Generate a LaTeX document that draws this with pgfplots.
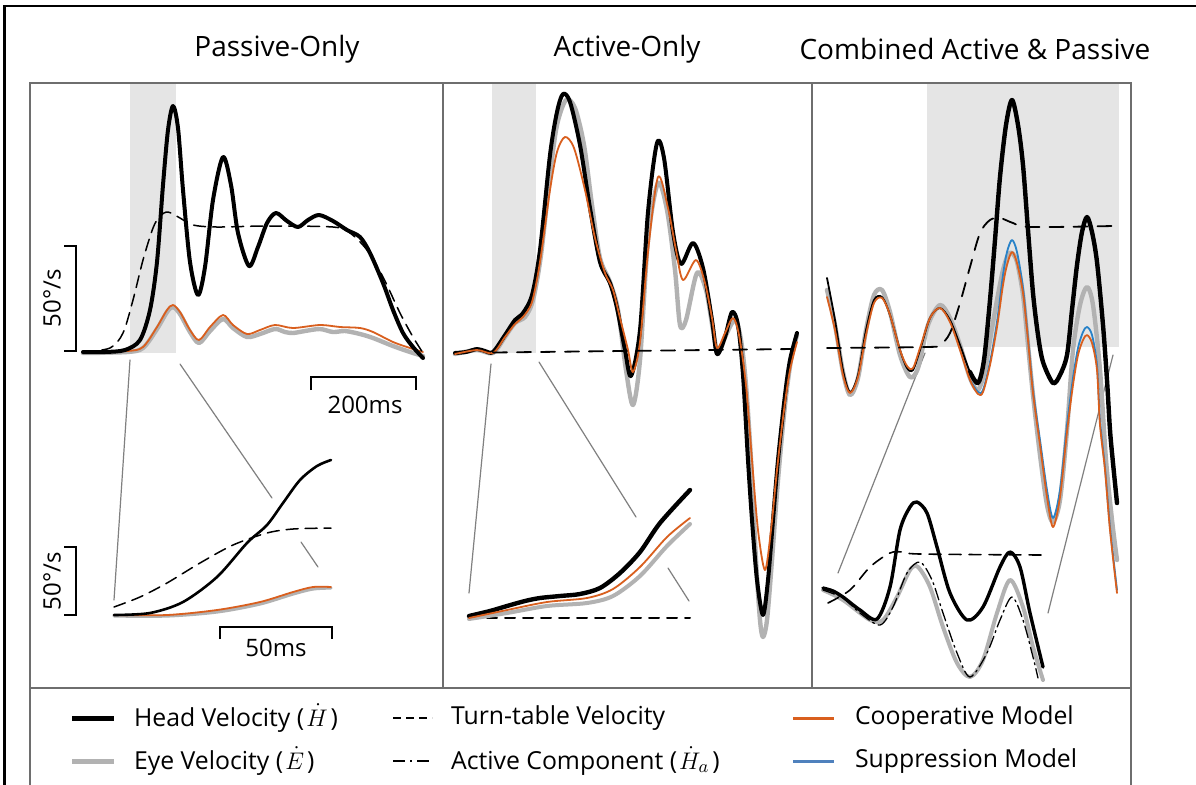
\documentclass[border=0pt]{standalone}
\usepackage{pgfplots}
\pgfplotsset{compat=1.18}
\usepackage{fontspec}
\setmainfont{Open Sans}

\definecolor{orng}{RGB}{217,95,30}
\definecolor{blu}{RGB}{40,130,200}
\definecolor{legblu}{RGB}{79,129,189}
\definecolor{eyeg}{RGB}{178,178,178}
\definecolor{shade}{RGB}{229,229,229}
\definecolor{frameg}{RGB}{110,110,110}
\definecolor{conn}{RGB}{128,128,128}

\tikzset{
  headthick/.style={black, line width=2pt, smooth},
  eyethick/.style={eyeg, line width=2.2pt, smooth},
  coop/.style={orng, line width=0.9pt, smooth},
  supp/.style={blu, line width=0.9pt, smooth},
  table/.style={black, line width=0.75pt, dash pattern=on 6pt off 3.5pt, smooth},
  activec/.style={black, line width=0.65pt, dash pattern=on 6pt off 2pt on 1pt off 2pt, smooth},
  zoomline/.style={conn, line width=0.6pt},
  scalebar/.style={black, line width=0.8pt},
  legtext/.style={anchor=west, font=\fontsize{12.4}{14}\selectfont},
}

\begin{document}
\begin{tikzpicture}
\begin{axis}[
  x=0.5pt, y=0.5pt, y dir=reverse,
  xmin=0, xmax=1196, ymin=0, ymax=784,
  enlargelimits=false, hide axis, clip=true,
  every axis plot/.append style={line join=round, line cap=round},
]
\fill[white] (0,0) rectangle (1196,784);

% ---- shaded windows ----
\addplot[fill=shade, draw=none] coordinates {(130,83) (176,83) (176,353) (130,353)} --cycle;
\addplot[fill=shade, draw=none] coordinates {(492,83) (536,83) (536,353) (492,353)} --cycle;
\addplot[fill=shade, draw=none] coordinates {(927,83) (1119,83) (1119,347) (927,347)} --cycle;

% ---- zoom connectors ----
\addplot[zoomline] coordinates {(130,360) (114,600)};
\addplot[zoomline] coordinates {(180,364) (272,498)};
\addplot[zoomline] coordinates {(301,542) (318,567)};
\addplot[zoomline] coordinates {(491,364) (469,593)};
\addplot[zoomline] coordinates {(539,362) (636,517)};
\addplot[zoomline] coordinates {(668,568) (689,601)};
\addplot[zoomline] coordinates {(838,573) (925,353)};
\addplot[zoomline] coordinates {(1048,613) (1113,355)};

% ================= Passive-Only, full trace =================
\addplot[eyethick] coordinates {(83,353) (127,352) (143,348) (157,329) (167,312) (173,307) (180,314) (190,332) (199,343) (210,331) (223,319) (233,328) (247,337) (260,334) (275,329) (285,332) (293,333) (305,331) (320,329) (333,332) (345,331) (360,334) (373,338) (393,346) (410,352) (423,356)};
\addplot[coop] coordinates {(83,352) (127,351) (143,347) (157,327) (167,310) (173,305) (180,312) (190,330) (199,340) (210,327) (223,315) (233,325) (247,334) (260,330) (275,325) (293,328) (320,325) (340,327) (360,328) (373,332) (393,342) (410,348) (423,352)};
\addplot[table] coordinates {(83,352) (110,348) (123,333) (133,300) (143,260) (153,228) (160,216) (168,212) (180,218) (193,225) (217,227) (267,226) (333,227) (350,233) (367,250) (383,277) (400,313) (413,337) (423,353)};
\addplot[headthick] coordinates {(83,352) (105,352) (125,350) (140,340) (150,310) (157,262) (163,185) (168,130) (173,106) (178,128) (183,190) (190,262) (198,295) (205,267) (213,200) (223,157) (231,185) (238,233) (249,266) (258,247) (267,223) (276,213) (287,221) (298,227) (308,220) (319,215) (333,221) (347,230) (360,237) (370,253) (383,283) (393,310) (403,333) (413,347) (423,358)};

% Passive-Only, zoomed onset
\addplot[eyeg, line width=1.6pt, smooth] coordinates {(114,616) (167,616) (217,612) (260,604) (293,594) (313,589) (331,588)};
\addplot[orng, line width=0.9pt, smooth] coordinates {(114,615) (167,615) (217,610) (260,602) (293,592) (313,587) (331,587)};
\addplot[black, line width=0.75pt, dash pattern=on 6pt off 3.5pt, smooth] coordinates {(114,607) (140,597) (167,583) (200,563) (233,545) (267,533) (293,529) (331,528)};
\addplot[black, line width=1.3pt, smooth] coordinates {(114,615) (150,613) (183,602) (217,577) (247,543) (267,525) (283,503) (300,480) (317,466) (331,460)};

% ================= Active-Only, full trace =================
\addplot[eyethick] coordinates {(455,354) (477,350) (493,353) (505,337) (515,323) (525,317) (533,300) (541,255) (550,175) (557,125) (566,100) (575,108) (584,145) (592,205) (600,258) (610,282) (618,310) (626,370) (633,405) (640,360) (648,240) (658,183) (667,210) (675,270) (680,325) (686,320) (697,273) (706,290) (713,330) (718,353) (726,335) (735,320) (741,340) (746,385) (751,460) (756,560) (760,620) (763,637) (767,620) (772,560) (778,480) (785,405) (791,360) (797,335)};
\addplot[headthick] coordinates {(455,353) (466,352) (477,349) (485,351) (493,352) (505,335) (515,320) (523,313) (532,295) (540,250) (550,155) (557,112) (563,94) (570,102) (580,145) (590,208) (600,262) (610,283) (617,308) (625,350) (631,376) (640,330) (648,212) (657,143) (664,158) (673,232) (681,264) (693,243) (703,268) (712,320) (717,354) (725,337) (732,312) (738,325) (743,375) (748,460) (752,520) (757,580) (763,615) (768,580) (773,520) (778,460) (785,395) (790,360) (797,333)};
\addplot[coop] coordinates {(455,354) (477,350) (493,353) (505,337) (515,324) (523,317) (532,302) (540,262) (550,190) (557,152) (565,137) (574,148) (585,190) (595,238) (605,273) (613,290) (620,318) (628,350) (633,372) (640,342) (648,252) (658,177) (668,208) (676,250) (683,280) (696,260) (705,283) (712,318) (717,348) (725,333) (733,318) (739,335) (746,385) (752,460) (758,530) (765,570) (771,530) (777,470) (784,410) (790,370) (797,342)};
\addplot[black, line width=0.9pt, dash pattern=on 7pt off 5pt] coordinates {(493,352.5) (793,349)};

% Active-Only, zoomed onset
\addplot[black, line width=1pt, dash pattern=on 5pt off 4pt] coordinates {(469,618) (690,618)};
\addplot[eyeg, line width=2pt, smooth] coordinates {(469,619) (507,613) (547,606) (587,603) (613,596) (640,576) (667,546) (690,524)};
\addplot[black, line width=2.2pt, smooth] coordinates {(469,616) (490,611) (507,606) (525,601) (540,598) (560,596) (580,594) (600,588) (620,573) (640,552) (660,523) (690,490)};
\addplot[orng, line width=0.9pt, smooth] coordinates {(469,618) (507,610) (547,602) (587,598) (613,589) (640,567) (667,537) (690,518)};

% ================= Combined Active & Passive, full trace =================
\addplot[eyethick] coordinates {(827,290) (835,325) (843,372) (850,395) (858,378) (866,330) (874,295) (882,290) (890,312) (900,355) (910,377) (918,368) (928,325) (940,305) (950,318) (960,345) (970,378) (978,390) (985,370) (990,340) (997,300) (1003,270) (1008,255) (1012,253) (1017,262) (1023,295) (1028,345) (1033,395) (1040,455) (1047,505) (1053,522) (1060,500) (1067,430) (1073,350) (1080,305) (1087,287) (1093,305) (1100,370) (1106,460) (1112,520) (1117,560)};
\addplot[black, line width=0.9pt, smooth] coordinates {(827,278) (835,320) (843,370) (850,392) (858,375) (866,330) (874,300) (882,297) (890,315) (900,350) (907,368) (913,370) (920,350) (930,318) (940,308) (950,320) (960,345) (970,372) (978,383)};
\addplot[black, line width=2.2pt, smooth] coordinates {(970,372) (978,383) (984,360) (990,300) (995,240) (1000,177) (1006,125) (1012,100) (1018,125) (1023,165) (1028,230) (1033,293) (1038,335) (1043,362) (1053,383) (1060,375) (1067,355) (1072,310) (1077,265) (1082,232) (1087,217) (1092,232) (1097,262) (1103,325) (1107,380) (1110,430) (1113,463) (1117,503)};
\addplot[supp] coordinates {(970,380) (978,392) (983,390) (990,362) (997,322) (1003,275) (1007,252) (1012,240) (1017,252) (1023,288) (1028,338) (1033,390) (1040,440) (1047,490) (1053,518) (1060,490) (1067,425) (1073,378) (1078,348) (1083,332) (1087,327) (1092,335) (1097,365) (1100,420) (1105,468) (1110,527) (1117,590)};
\addplot[coop] coordinates {(827,297) (835,330) (843,375) (850,393) (858,377) (866,335) (874,303) (882,298) (890,315) (900,350) (907,366) (913,368) (920,348) (930,318) (940,308) (950,322) (960,350) (970,380) (978,394) (983,392) (990,365) (997,327) (1003,285) (1007,265) (1012,252) (1017,263) (1023,293) (1028,340) (1033,393) (1040,445) (1047,497) (1053,527) (1060,497) (1067,432) (1073,385) (1078,355) (1083,340) (1087,335) (1092,343) (1097,370) (1100,425) (1105,470) (1110,530) (1117,593)};
\addplot[black, line width=0.9pt, dash pattern=on 7pt off 5pt, smooth] coordinates {(827,348) (927,347) (940,345) (950,333) (960,303) (970,267) (980,233) (990,220) (1000,218) (1013,223) (1030,227) (1113,226)};

% Combined, zoomed window
\addplot[eyeg, line width=2pt, smooth] coordinates {(823,590) (843,600) (870,620) (883,620) (897,597) (910,570) (918,567) (930,587) (943,627) (957,663) (970,677) (983,660) (997,613) (1010,580) (1023,607) (1033,647) (1043,680)};
\addplot[activec] coordinates {(823,590) (843,598) (860,613) (880,625) (893,607) (907,573) (920,562) (932,580) (943,613) (957,653) (970,677) (987,653) (1000,620) (1012,597) (1023,620) (1033,657) (1038,678)};
\addplot[black, line width=0.8pt, dash pattern=on 6pt off 4pt, smooth] coordinates {(828,603) (850,590) (870,567) (890,553) (903,552) (920,554) (1043,555)};
\addplot[black, line width=1.7pt, smooth] coordinates {(823,588) (833,591) (843,597) (860,610) (877,619) (890,587) (900,530) (910,507) (917,502) (927,513) (937,547) (950,593) (967,620) (983,607) (1000,567) (1010,552) (1020,567) (1030,613) (1043,667)};

% ---- scale bars ----
\draw[scalebar] (64,246) -- (76,246) -- (76,351) -- (64,351);
\node[rotate=90, font=\fontsize{12}{14}\selectfont] at (52,298) {50°/s};
\draw[scalebar] (311,390) -- (311,377) -- (416,377) -- (416,390);
\node[font=\fontsize{12}{14}\selectfont] at (365,405) {200ms};
\draw[scalebar] (64,547) -- (76,547) -- (76,615) -- (64,615);
\node[rotate=90, font=\fontsize{12}{14}\selectfont] at (52,581) {50°/s};
\draw[scalebar] (220,639) -- (220,627) -- (332,627) -- (332,639);
\node[font=\fontsize{12}{14}\selectfont] at (276,648) {50ms};

% ---- panel frames and titles ----
\draw[frameg, line width=0.75pt] (30,83) rectangle (443,688);
\draw[frameg, line width=0.75pt] (443,83) rectangle (812,688);
\draw[frameg, line width=0.75pt] (812,83) rectangle (1131,688);
\draw[frameg, line width=0.75pt] (30,800) -- (30,688) -- (1131,688) -- (1131,800);
\draw[black, line width=1pt] (4.5,790) -- (4.5,6) -- (1200,6);

\node[font=\fontsize{14}{16}\selectfont] at (277,49) {Passive-Only};
\node[font=\fontsize{14}{16}\selectfont] at (627,49) {Active-Only};
\node[font=\fontsize{14}{16}\selectfont] at (975,49) {Combined Active \& Passive};

% ---- legend ----
\draw[black, line width=2.5pt] (72,718) -- (114,718);
\node[legtext] at (127,718) {Head Velocity (\kern1pt$\dot{H}$\kern1.5pt)};
\draw[eyeg, line width=2.5pt] (72,761) -- (114,761);
\node[legtext] at (127,761) {Eye Velocity (\kern1pt$\dot{E}$\kern1.5pt)};
\draw[black, line width=0.8pt, dash pattern=on 4pt off 2.5pt] (393,718) -- (432,718);
\node[legtext] at (444,718) {Turn-table Velocity};
\draw[black, line width=0.8pt, dash pattern=on 6pt off 2.5pt on 1.2pt off 2.5pt] (393,761) -- (432,761);
\node[legtext] at (444,761) {Active Component (\kern1pt$\dot{H}_a$\kern1.5pt)};
\draw[orng, line width=1.5pt] (793,718) -- (834,718);
\node[legtext] at (848,718) {Cooperative Model};
\draw[legblu, line width=1.5pt] (793,761) -- (834,761);
\node[legtext] at (848,761) {Suppression Model};
\end{axis}
\end{tikzpicture}
\end{document}
